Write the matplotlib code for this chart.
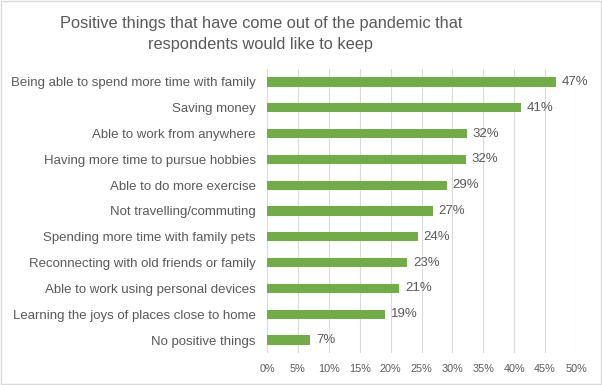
import matplotlib.pyplot as plt
from matplotlib.ticker import PercentFormatter

plt.rcParams['font.family'] = ['Liberation Sans', 'DejaVu Sans']

# Survey answers, top to bottom as shown
categories = [
    'Being able to spend more time with family',
    'Saving money',
    'Able to work from anywhere',
    'Having more time to pursue hobbies',
    'Able to do more exercise',
    'Not travelling/commuting',
    'Spending more time with family pets',
    'Reconnecting with old friends or family',
    'Able to work using personal devices',
    'Learning the joys of places close to home',
    'No positive things',
]
values = [46.8, 41.1, 32.4, 32.2, 29.1, 26.9, 24.4, 22.7, 21.4, 19.1, 7.0]
xticks = [0, 5, 10, 15, 20, 25, 30, 35, 40, 45, 50]

grey = '#595959'
green = '#70AD47'

fig = plt.figure(figsize=(6.02, 3.85), dpi=100)
ax = fig.add_axes([267 / 602, 1 - 353 / 385, (576 - 267) / 602, (353 - 69) / 385])

pos = list(range(len(categories)))
ax.barh(pos, values, height=0.36, color=green, zorder=3)
ax.set_ylim(len(categories) - 0.5, -0.5)
ax.set_yticks(pos)
ax.set_yticklabels(categories, fontsize=9.5, color=grey)

for p, v in zip(pos, values):
    ax.text(v + 0.9, p, f'{round(v)}%', va='center', ha='left', fontsize=9.5, color=grey)

ax.set_xlim(0, 50)
ax.set_xticks(xticks)
ax.xaxis.set_major_formatter(PercentFormatter(decimals=0))
ax.tick_params(axis='x', labelsize=7.8, colors=grey, length=0, pad=8)
ax.tick_params(axis='y', length=0, pad=8)
ax.grid(axis='x', color='#D9D9D9', linewidth=0.8, zorder=0)
for s in ax.spines.values():
    s.set_visible(False)

# title sits a bit left of centre in the original
fig.text(261 / 602, 1 - 34 / 385, 'Positive things that have come out of the pandemic that\nrespondents would like to keep',
         ha='center', va='center', fontsize=11.8, color=grey, linespacing=1.45)

# light chart border like the original
fig.patches.append(plt.Rectangle((0.002, 0.003), 0.996, 0.994, transform=fig.transFigure,
                                 fill=False, edgecolor='#D9D9D9', linewidth=1))

fig.savefig('out.png', dpi=100)
